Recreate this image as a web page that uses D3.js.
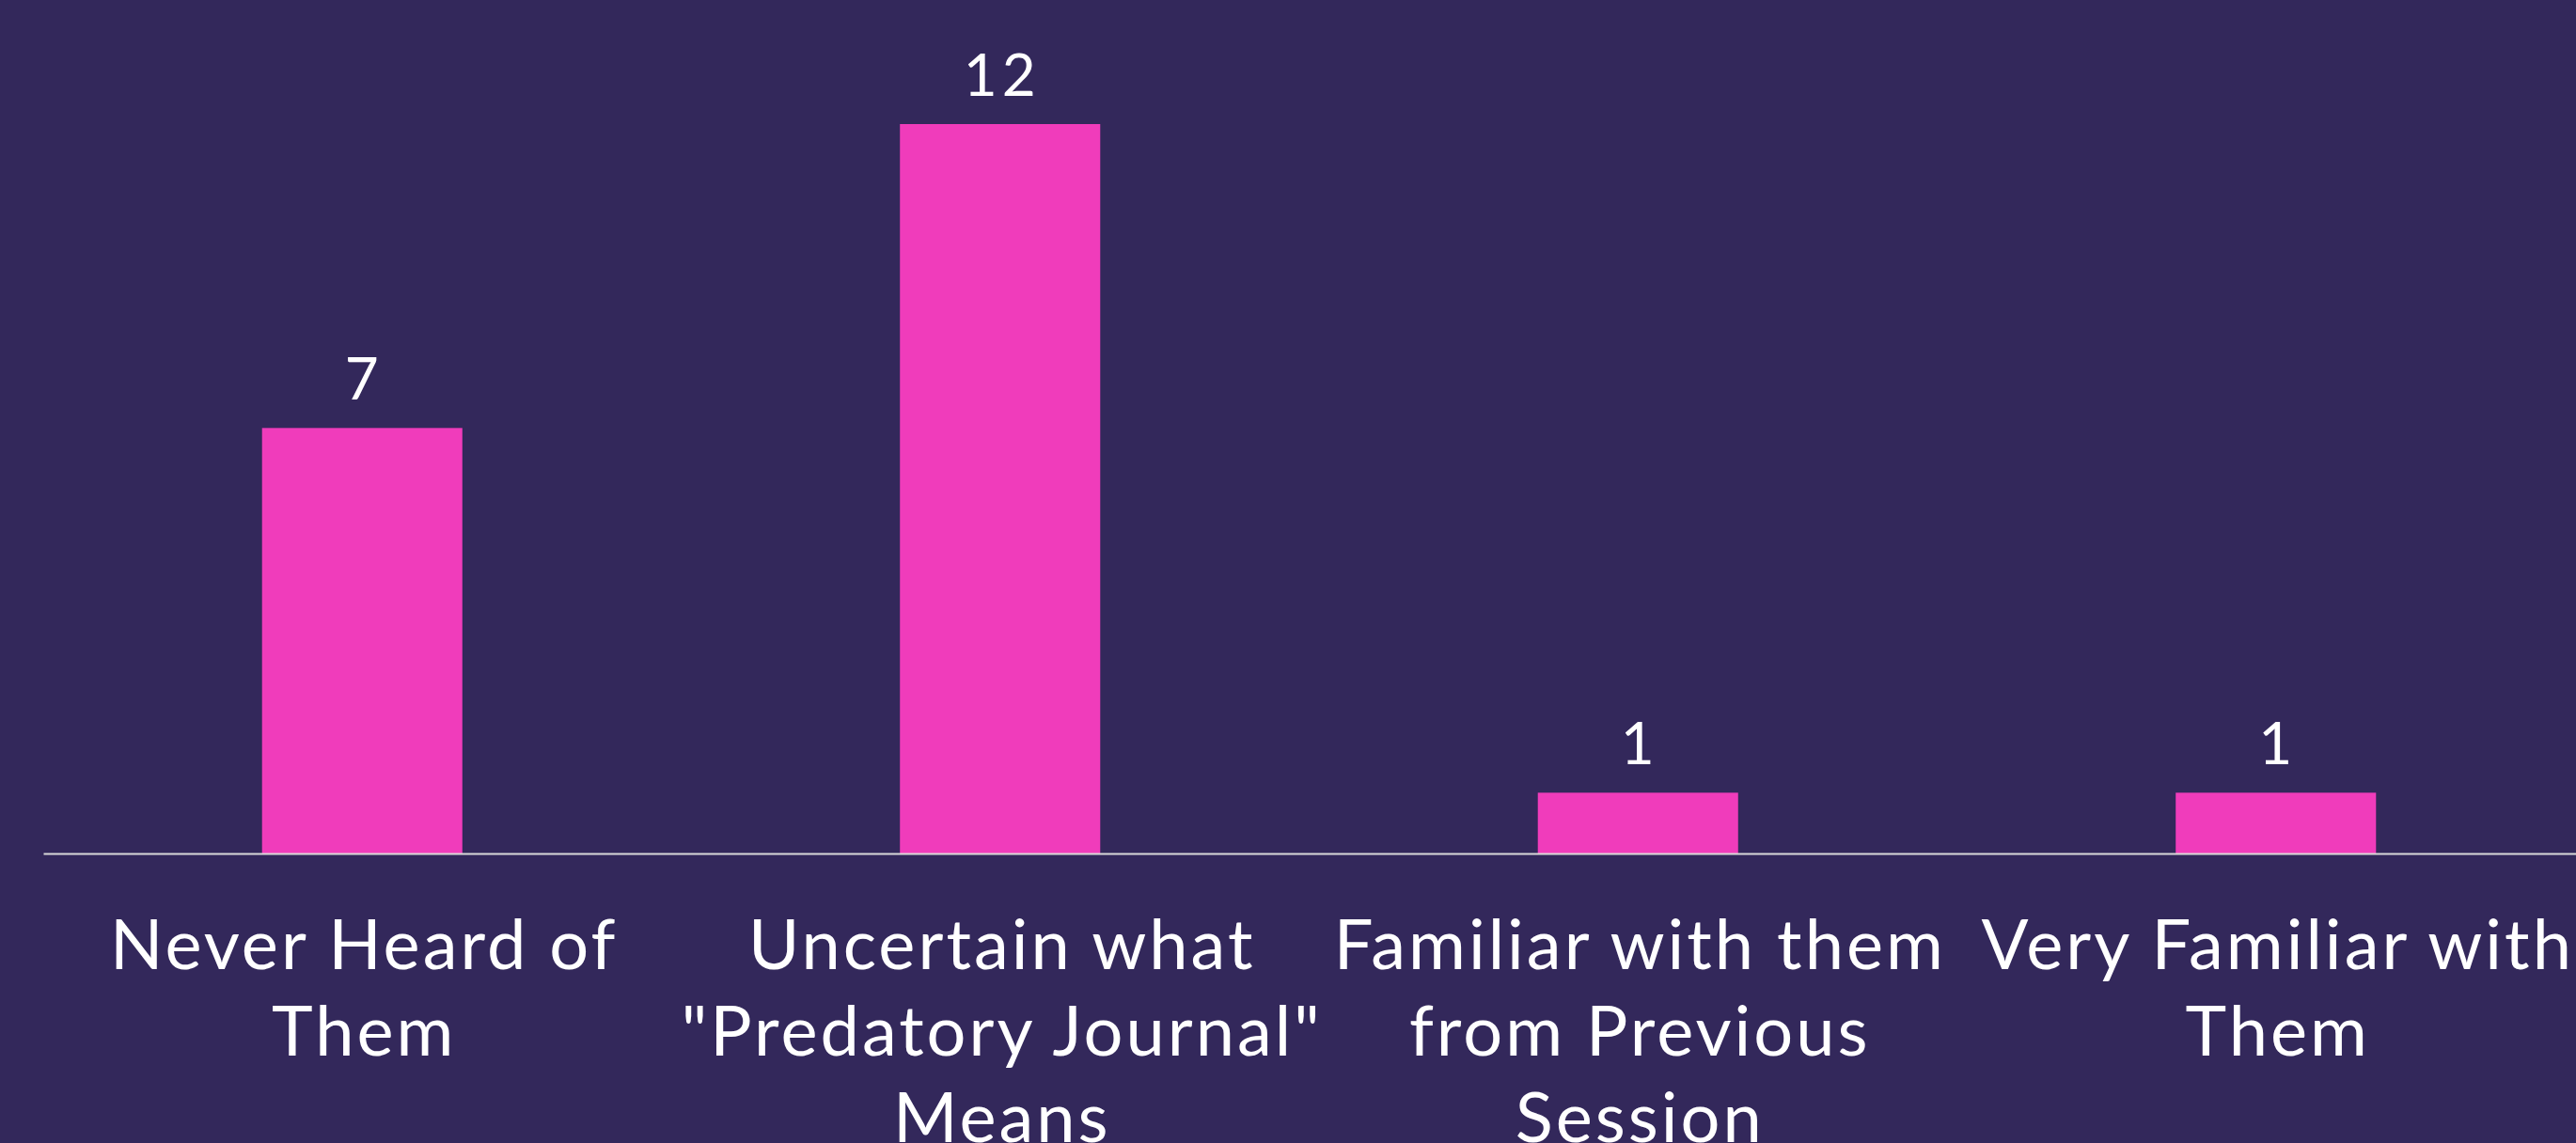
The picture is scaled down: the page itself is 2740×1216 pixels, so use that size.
<!DOCTYPE html>
<html>
<head>
<meta charset="utf-8">
<script src="https://cdn.jsdelivr.net/npm/d3@7"></script>
<style>
  html, body { margin: 0; padding: 0; background: #33285b; overflow: hidden; }
  svg { display: block; }
</style>
</head>
<body>
<div id="app"></div>
<script>
const WIDTH = 2740
const HEIGHT = 1216

const categories = [
  'Never Heard of Them',
  'Uncertain what "Predatory Journal" Means',
  'Familiar with them from Previous Session',
  'Very Familiar with Them'
]
const counts = [7, 12, 1, 1]

const data = categories.map((c, i) => ({ name: c, value: counts[i] }))

const svg = d3.select('#app').append('svg')
  .attr('width', WIDTH)
  .attr('height', HEIGHT)

svg.append('rect')
  .attr('width', WIDTH)
  .attr('height', HEIGHT)
  .attr('fill', '#33285b')

const x = d3.scaleBand()
  .domain(categories)
  .range([46, 2760])
  .paddingInner(0.686)
  .paddingOuter(0.343)

const y = d3.scaleLinear()
  .domain([0, 12])
  .range([908, 132])

svg.selectAll('.bar')
  .data(data)
  .enter().append('rect')
  .attr('class', 'bar')
  .attr('x', d => x(d.name))
  .attr('y', d => y(d.value))
  .attr('width', x.bandwidth())
  .attr('height', d => y(0) - y(d.value))
  .attr('fill', '#f03cbb')

// value labels above the bars
svg.selectAll('.val')
  .data(data)
  .enter().append('text')
  .attr('class', 'val')
  .attr('x', d => x(d.name) + x.bandwidth() / 2 + 2)
  .attr('y', d => y(d.value) - 30)
  .attr('text-anchor', 'middle')
  .attr('fill', '#ffffff')
  .style('font-family', 'Lato, sans-serif')
  .style('font-size', '62px')
  .style('letter-spacing', '5px')
  .text(d => d.value)

const xAxis = d3.axisBottom(x)
  .tickSizeInner(0)
  .tickSizeOuter(0)
  .tickPadding(0)

const gx = svg.append('g')
  .attr('transform', 'translate(0,' + y(0) + ')')
  .call(xAxis)

gx.select('.domain')
  .attr('stroke', '#d9d9d9')
  .attr('stroke-width', 2)

gx.selectAll('.tick text')
  .attr('fill', '#ffffff')
  .style('font-family', 'Lato, sans-serif')
  .style('font-size', '74px')
  .style('letter-spacing', '3px')
  .call(wrap, 715)

function wrap(texts, width) {
  texts.each(function () {
    const text = d3.select(this)
    const words = text.text().split(/\s+/)
    text.text(null).attr('dy', null).attr('y', null)
    let line = []
    let lineNo = 0
    let tspan = text.append('tspan').attr('x', 2).attr('y', 123)
    words.forEach(w => {
      line.push(w)
      tspan.text(line.join(' '))
      if (tspan.node().getComputedTextLength() > width && line.length > 1) {
        line.pop()
        tspan.text(line.join(' '))
        line = [w]
        lineNo++
        tspan = text.append('tspan').attr('x', 2).attr('y', 123 + lineNo * 92).text(w)
      }
    })
  })
}
</script>
</body>
</html>
